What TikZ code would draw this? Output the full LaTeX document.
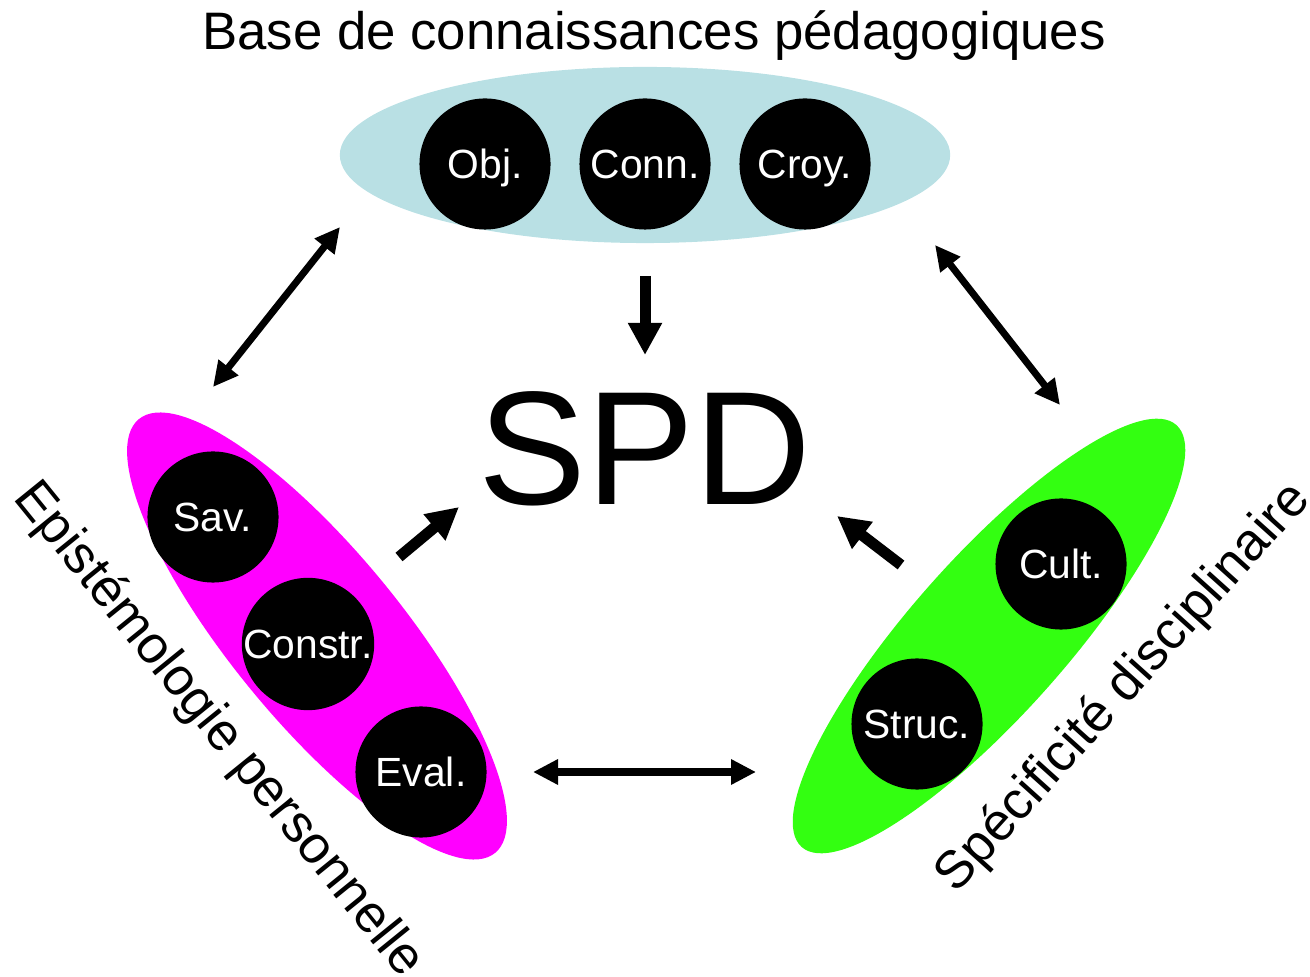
\documentclass[tikz,border=0pt]{standalone}
\usepackage{fontspec}
\setmainfont{Liberation Sans}
\usetikzlibrary{shapes.geometric, arrows.meta}

\definecolor{kbblue}{RGB}{185,224,228}
\definecolor{epimagenta}{RGB}{255,0,255}
\definecolor{specgreen}{RGB}{51,255,17}

\begin{document}
\begin{tikzpicture}[x=0.01cm, y=-0.01cm,
    group/.style={ellipse, inner sep=0pt},
    item/.style={circle, fill=black, text=white, minimum size=1.31cm, inner sep=0pt, text height=0.84em, text depth=0pt, font=\fontsize{11.6}{14}\selectfont},
    grouptitle/.style={font=\fontsize{15}{18}\selectfont},
    twoway/.style={{Triangle[length=0.25cm,width=0.24cm]}-{Triangle[length=0.25cm,width=0.24cm]}, line width=0.07cm},
    oneway/.style={-{Triangle[length=0.32cm,width=0.32cm]}, line width=0.11cm}]
      \useasboundingbox (0,0) rectangle (1310,977);

      % the three groups
      \node[group, fill=kbblue,     minimum width=6.1cm,  minimum height=1.76cm]              (KB)   at ( 645, 155) {};
      \node[group, fill=epimagenta, minimum width=5.61cm, minimum height=1.70cm, rotate=-50.6] (EP)   at ( 317, 636) {};
      \node[group, fill=specgreen,  minimum width=5.64cm, minimum height=1.56cm, rotate=48.4]  (SD)   at ( 989, 636) {};

      \node[item]  (Obj)    at ( 485, 164)   {Obj.};
      \node[item]  (Conn)   at ( 645, 164)   {Conn.};
      \node[item]  (Croy)   at ( 805, 164)   {Croy.};

      \node[item]  (Sav)    at ( 213, 517)   {Sav.};
      \node[item]  (Constr) at ( 308, 644)   {Constr.};
      \node[item]  (Eval)   at ( 421, 772)   {Eval.};

      \node[item]  (Cult)   at (1061, 564)   {Cult.};
      \node[item]  (Struc)  at ( 917, 724)   {Struc.};

      % titles
      \node[grouptitle, anchor=base] (KBt) at ( 654,  50) {Base de connaissances pédagogiques};
      \node[grouptitle, rotate=-51]  (EPt) at ( 218, 730) {Epistémologie personnelle};
      \node[grouptitle, rotate=48]   (SDt) at (1124, 688) {Spécificité disciplinaire};

      \node[font=\fontsize{46}{50}\selectfont, anchor=base] (SPD) at (645, 505) {SPD};

      % arrow ends
      \coordinate (KBsw) at ( 340, 227);
      \coordinate (KBse) at ( 935, 245);
      \coordinate (KBs)  at ( 645, 276);
      \coordinate (EPn)  at ( 213, 387);
      \coordinate (EPe)  at ( 533, 772);
      \coordinate (EPne) at ( 399, 557);
      \coordinate (SDn)  at (1060, 405);
      \coordinate (SDw)  at ( 756, 772);
      \coordinate (SDnw) at ( 901, 565);
      \coordinate (SPDn) at ( 645, 355);
      \coordinate (SPDw) at ( 459, 507);
      \coordinate (SPDe) at ( 837, 516);

      \draw[twoway] (EPn) -- (KBsw);
      \draw[twoway] (KBse) -- (SDn);
      \draw[twoway] (EPe) -- (SDw);

      \draw[oneway] (KBs) -- (SPDn);
      \draw[oneway] (EPne) -- (SPDw);
      \draw[oneway] (SDnw) -- (SPDe);
    \end{tikzpicture}
\end{document}
